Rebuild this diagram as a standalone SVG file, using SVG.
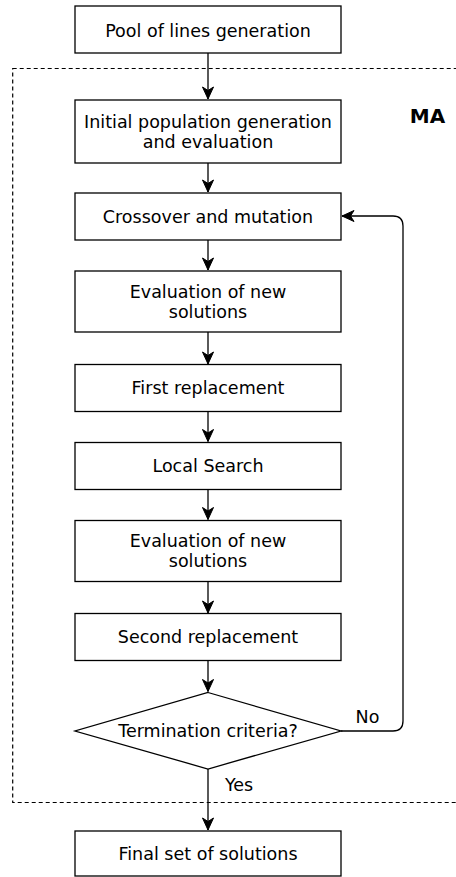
<svg xmlns="http://www.w3.org/2000/svg" width="456" height="877" viewBox="0 0 456 877">
<style>
.box{fill:#ffffff;stroke:#000000;stroke-width:1.3}
.t{font-family:"DejaVu Sans",Verdana,sans-serif;font-size:17.5px;fill:#000000;text-anchor:middle}
.c{fill:none;stroke:#000000;stroke-width:1.3}
</style>
<defs>
<marker id="ah" viewBox="-13 -7 14 14" refX="0" refY="0" markerWidth="14" markerHeight="14" markerUnits="userSpaceOnUse" orient="auto">
<path d="M0,0 L-12,-5.5 L-8.5,0 L-12,5.5 Z" fill="#000000" stroke="#000000" stroke-width="1"/>
</marker>
</defs>
<rect x="12.7" y="68.5" width="460" height="734" fill="none" stroke="#000000" stroke-width="1.2" stroke-dasharray="4 3"/>
<text x="427.5" y="122.5" font-family="DejaVu Sans,Verdana,sans-serif" font-size="20" font-weight="bold" text-anchor="middle">MA</text>
<g id="connectors">
<path class="c" d="M208,53 V99" marker-end="url(#ah)"/>
<path class="c" d="M208,163 V192" marker-end="url(#ah)"/>
<path class="c" d="M208,240 V270" marker-end="url(#ah)"/>
<path class="c" d="M208,332 V364" marker-end="url(#ah)"/>
<path class="c" d="M208,411.5 V441.5" marker-end="url(#ah)"/>
<path class="c" d="M208,489.5 V519.5" marker-end="url(#ah)"/>
<path class="c" d="M208,581.5 V613" marker-end="url(#ah)"/>
<path class="c" d="M208,660.5 V691.5" marker-end="url(#ah)"/>
<path class="c" d="M208,769 V830" marker-end="url(#ah)"/>
<path class="c" d="M341,731 H393 Q403,731 403,721 V226 Q403,216 393,216 H342" marker-end="url(#ah)"/>
<text x="367.5" y="722.5" class="t">No</text>
<text x="239" y="791" class="t">Yes</text>
</g>
<g id="n1"><rect class="box" x="75" y="6" width="266" height="47"/><text class="t" x="208" y="37">Pool of lines generation</text></g>
<g id="n2"><rect class="box" x="75" y="100" width="266" height="63"/><text class="t" x="208" y="128">Initial population generation</text><text class="t" x="208" y="147.5">and evaluation</text></g>
<g id="n3"><rect class="box" x="75" y="193" width="266" height="47"/><text class="t" x="208" y="222.5">Crossover and mutation</text></g>
<g id="n4"><rect class="box" x="75" y="271" width="266" height="61"/><text class="t" x="208" y="298">Evaluation of new</text><text class="t" x="208" y="317.5">solutions</text></g>
<g id="n5"><rect class="box" x="75" y="364.5" width="266" height="47"/><text class="t" x="208" y="393.5">First replacement</text></g>
<g id="n6"><rect class="box" x="75" y="442.5" width="266" height="47"/><text class="t" x="208" y="472">Local Search</text></g>
<g id="n7"><rect class="box" x="75" y="520.5" width="266" height="61"/><text class="t" x="208" y="547">Evaluation of new</text><text class="t" x="208" y="566.5">solutions</text></g>
<g id="n8"><rect class="box" x="75" y="613.5" width="266" height="47"/><text class="t" x="208" y="643">Second replacement</text></g>
<g id="n9"><path class="box" d="M208,692.5 L341,731 L208,769 L75,731 Z"/><text class="t" x="208" y="737">Termination criteria?</text></g>
<g id="n10"><rect class="box" x="75" y="831" width="266" height="45"/><text class="t" x="208" y="859.5">Final set of solutions</text></g>
</svg>
